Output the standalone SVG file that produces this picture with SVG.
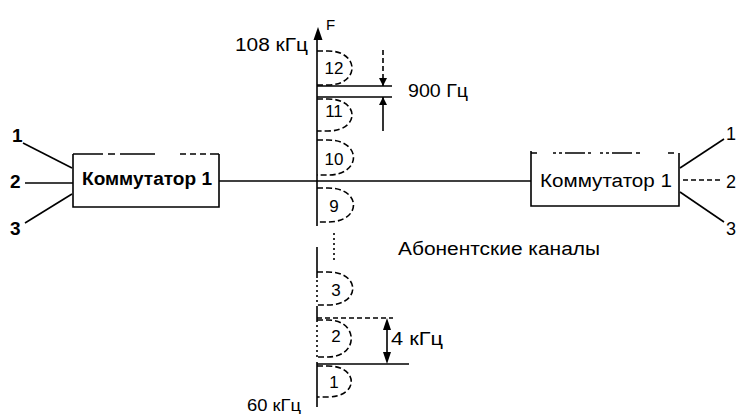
<svg xmlns="http://www.w3.org/2000/svg" width="737" height="416" viewBox="0 0 737 416">
<style>
  .ln{stroke:#000;stroke-width:1.6;fill:none}
  .dl{stroke:#000;stroke-width:1.6;fill:none;stroke-dasharray:5 3}
  .dt{stroke:#000;stroke-width:1.6;fill:none;stroke-dasharray:2 3}
  .lp{stroke:#000;stroke-width:1.6;fill:none;stroke-dasharray:6 3}
  .t{font-family:"Liberation Sans",Arial,sans-serif;fill:#000}
  .n{font-family:"Liberation Sans",Arial,sans-serif;fill:#000;font-size:17px;text-anchor:middle}
  .b{font-weight:bold}
</style>
<defs>
  <marker id="ah" viewBox="0 0 10 10" refX="10" refY="5" markerWidth="8" markerHeight="8" markerUnits="userSpaceOnUse" orient="auto">
    <path d="M0,0 L10,5 L0,10 z" fill="#000"/>
  </marker>
</defs>

<g id="connectors">
  <line class="ln" x1="23" y1="143" x2="72" y2="168"/>
  <line class="ln" x1="25" y1="183" x2="73" y2="183"/>
  <line class="ln" x1="25" y1="223" x2="72" y2="194"/>
  <line class="ln" x1="219" y1="181" x2="531" y2="181"/>
  <line class="ln" x1="680" y1="168" x2="724" y2="139"/>
  <line class="dl" x1="683" y1="180" x2="722" y2="180"/>
  <line class="ln" x1="680" y1="192" x2="724" y2="222"/>
</g>

<g id="left-box">
  <path class="ln" d="M73,154 V207 H219 V154"/>
  <path class="ln" d="M73,154 H103 M108,154 H115 M120,154 H155 M180,154 H186 M190,154 H196 M200,154 H206 M210,154 H219"/>
  <text class="t b" x="147" y="185" font-size="18" text-anchor="middle" textLength="130" lengthAdjust="spacingAndGlyphs">Коммутатор 1</text>
</g>

<g id="right-box">
  <path class="ln" d="M531,151 V206 H679 V153"/>
  <path class="ln" d="M531,153 H537 M553,153 H556 M559,153 H562 M565,153 H585 M588,153 H591 M600,153 H603 M606,153 H609 M612,153 H632 M636,153 H640 M668,153 H674"/>
  <text class="t" x="606" y="187" font-size="18" text-anchor="middle" textLength="132" lengthAdjust="spacingAndGlyphs">Коммутатор 1</text>
</g>

<g id="input-labels">
  <text class="t b" x="12" y="142" font-size="19">1</text>
  <text class="t b" x="10" y="188" font-size="19">2</text>
  <text class="t b" x="10" y="235" font-size="19">3</text>
  <text class="t" x="726" y="140" font-size="18">1</text>
  <text class="t" x="726" y="188" font-size="18">2</text>
  <text class="t" x="726" y="235" font-size="18">3</text>
</g>

<g id="frequency-axis">
  <line class="ln" x1="317" y1="38" x2="317" y2="226"/>
  <path d="M318,27 L313.5,40 L322.5,40 z" fill="#000"/>
  <line class="ln" x1="317" y1="247" x2="317" y2="278"/>
  <line class="dt" x1="317" y1="280" x2="317" y2="304"/>
  <line class="ln" x1="317" y1="306" x2="317" y2="322"/>
  <line class="dt" x1="317" y1="325" x2="317" y2="358"/>
  <line class="ln" x1="317" y1="362" x2="317" y2="407"/>
  <text class="t" x="326" y="30" font-size="15">F</text>
  <text class="t" x="235" y="51" font-size="18" textLength="73" lengthAdjust="spacingAndGlyphs">108 кГц</text>
  <text class="t" x="247" y="411" font-size="17" textLength="54" lengthAdjust="spacingAndGlyphs">60 кГц</text>
  <line class="dt" x1="334" y1="233" x2="334" y2="263"/>
</g>

<g id="channels">
  <path class="lp" d="M317,51 H328 C360,51 360,85 328,85 H317"/>
  <text class="n" x="334" y="74">12</text>
  <path class="lp" d="M317,99 H328 C360,99 360,131 328,131 H317"/>
  <text class="n" x="334" y="117">11</text>
  <path class="lp" d="M317,140 H328 C362,140 362,175 328,175 H317"/>
  <text class="n" x="334" y="165">10</text>
  <path class="lp" d="M317,188 H328 C362,188 362,222 328,222 H317"/>
  <text class="n" x="334" y="212">9</text>
  <path class="lp" d="M317,272 H328 C361,272 361,305 328,305 H317"/>
  <text class="n" x="336" y="296">3</text>
  <path class="lp" d="M317,320 H328 C359,320 359,357 328,357 H317"/>
  <text class="n" x="336" y="342">2</text>
  <path class="lp" d="M317,366 H328 C359,366 359,397 328,397 H317"/>
  <text class="n" x="334" y="388">1</text>
</g>

<g id="guard-900">
  <line class="ln" x1="317" y1="86" x2="392" y2="86"/>
  <line class="ln" x1="317" y1="97" x2="392" y2="97"/>
  <line class="dl" x1="383" y1="50" x2="383" y2="86" marker-end="url(#ah)"/>
  <line class="ln" x1="383" y1="131" x2="383" y2="97" marker-end="url(#ah)"/>
  <text class="t" x="408" y="97" font-size="18" textLength="60" lengthAdjust="spacingAndGlyphs">900 Гц</text>
</g>

<g id="band-4k">
  <line class="dl" x1="317" y1="318" x2="393" y2="318"/>
  <line class="ln" x1="317" y1="364" x2="409" y2="364"/>
  <line class="ln" x1="387" y1="326" x2="387" y2="356"/>
  <path d="M387,318 L383,330 L391,330 z M387,364 L383,352 L391,352 z" fill="#000"/>
  <text class="t" x="391" y="345" font-size="18" textLength="52" lengthAdjust="spacingAndGlyphs">4 кГц</text>
</g>

<g id="caption">
  <text class="t" x="398" y="255" font-size="18" textLength="202" lengthAdjust="spacingAndGlyphs">Абонентские каналы</text>
</g>
</svg>
